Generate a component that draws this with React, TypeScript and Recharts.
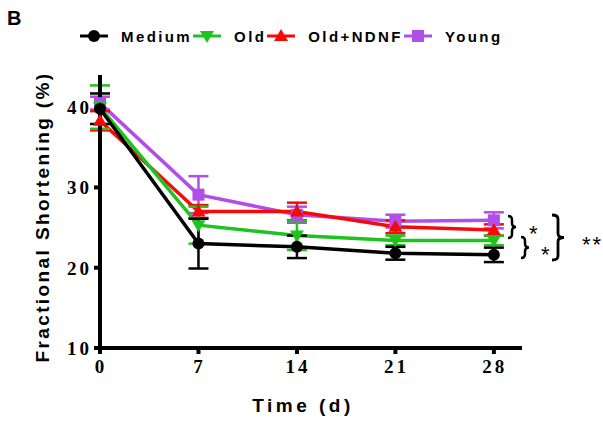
import { LineChart, Line, XAxis, YAxis, ErrorBar, Customized } from "recharts";

const days = [0, 7, 14, 21, 28];
const medium = [39.8, 23.0, 22.6, 21.8, 21.6];
const mediumErr = [1.9, 3.1, 1.4, 0.8, 0.9];
const old = [40.0, 25.3, 24.0, 23.4, 23.4];
const oldErr = [2.7, 2.3, 1.8, 0.6, 0.6];
const oldNdnf = [38.3, 27.0, 27.0, 25.1, 24.7];
const oldNdnfErr = [1.2, 0.8, 1.1, 0.8, 0.7];
const young = [40.5, 29.1, 26.6, 25.8, 25.9];
const youngErr = [0.8, 2.3, 1.0, 0.8, 1.0];

const yTicks = [10, 20, 30, 40];

const data = days.map((d, i) => ({
  day: d,
  medium: medium[i],
  mediumErr: mediumErr[i],
  old: old[i],
  oldErr: oldErr[i],
  oldNdnf: oldNdnf[i],
  oldNdnfErr: oldNdnfErr[i],
  young: young[i],
  youngErr: youngErr[i],
}));

const BLACK = "#000000";
const GREEN = "#1ec31e";
const RED = "#f50a0a";
const PURPLE = "#b14ee8";

type Shape = "circle" | "down" | "up" | "square";

function Marker({ cx, cy, shape, color }: { cx: number; cy: number; shape: Shape; color: string }) {
  if (shape === "circle") return <circle cx={cx} cy={cy} r={6} fill={color} />;
  if (shape === "square") return <rect x={cx - 6} y={cy - 6} width={12} height={12} fill={color} />;
  if (shape === "down")
    return <path d={`M${cx - 7},${cy - 5} L${cx + 7},${cy - 5} L${cx},${cy + 7} Z`} fill={color} />;
  return <path d={`M${cx - 7},${cy + 5} L${cx + 7},${cy + 5} L${cx},${cy - 7} Z`} fill={color} />;
}

const dotFor = (shape: Shape, color: string) => (p: any) =>
  <Marker key={`${shape}-${p.index}`} cx={p.cx} cy={p.cy} shape={shape} color={color} />;

const legendItems: { name: string; shape: Shape; color: string }[] = [
  { name: "Medium", shape: "circle", color: BLACK },
  { name: "Old", shape: "down", color: GREEN },
  { name: "Old+NDNF", shape: "up", color: RED },
  { name: "Young", shape: "square", color: PURPLE },
];

const YTick = ({ x, y, payload }: any) => (
  <text x={x} y={y} dy={7} textAnchor="end" fontFamily="Liberation Serif" fontWeight="bold" fontSize={19} letterSpacing={3} fill="#000">
    {payload.value}
  </text>
);

const XTick = ({ x, y, payload }: any) => (
  <text x={x + 1} y={y} dy={17} textAnchor="middle" fontFamily="Liberation Serif" fontWeight="bold" fontSize={19} letterSpacing={3} fill="#000">
    {payload.value}
  </text>
);

function brace(x: number, y1: number, y2: number, w: number) {
  const ym = (y1 + y2) / 2;
  const r = 4;
  return `M${x},${y1} Q${x + w},${y1} ${x + w},${y1 + r} L${x + w},${ym - r} Q${x + w},${ym} ${x + 2 * w},${ym} Q${x + w},${ym} ${x + w},${ym + r} L${x + w},${y2 - r} Q${x + w},${y2} ${x},${y2}`;
}

const Annotations = () => (
  <g>
    <text x={7} y={25} fontFamily="Liberation Sans" fontWeight="bold" fontSize={20} fill="#000">B</text>
    <text
      transform="translate(49,217) rotate(-90)"
      textAnchor="middle"
      fontFamily="Liberation Sans"
      fontWeight="bold"
      fontSize={19}
      letterSpacing={2.4}
      fill="#000"
    >
      Fractional Shortening (%)
    </text>
    <text x={303} y={412} textAnchor="middle" fontFamily="Liberation Sans" fontWeight="bold" fontSize={19} letterSpacing={3.5} fill="#000">
      Time (d)
    </text>
    <path d={brace(508, 216, 238, 4)} fill="none" stroke="#000" strokeWidth={2.5} />
    <path d={brace(521, 237, 258, 4)} fill="none" stroke="#000" strokeWidth={2.5} />
    <path d={brace(552, 215, 260, 6)} fill="none" stroke="#000" strokeWidth={2.8} />
    <text x={529} y={241} fontFamily="Liberation Sans" fontSize={22} fill="#000">*</text>
    <text x={541} y={262} fontFamily="Liberation Sans" fontSize={22} fill="#000">*</text>
    <text x={582} y={252} fontFamily="Liberation Sans" fontSize={22} letterSpacing={2} fill="#000">**</text>
  </g>
);

export default function App() {
  return (
    <div style={{ position: "absolute", left: 0, top: 0, width: 603, height: 426, background: "#fff" }}>
      <div
        style={{
          position: "absolute",
          left: 80,
          top: 27,
          display: "flex",
          alignItems: "center",
          fontFamily: "Liberation Sans",
          fontWeight: "bold",
          fontSize: 15,
          letterSpacing: 2.4,
          color: "#000",
          zIndex: 2,
        }}
      >
        {legendItems.map((it) => (
          <div key={it.name} style={{ display: "flex", alignItems: "center", marginRight: 1 }}>
            <svg width={28} height={18} style={{ marginRight: 13 }}>
              <line x1={0} y1={9} x2={28} y2={9} stroke={it.color} strokeWidth={3} />
              <Marker cx={14} cy={9} shape={it.shape} color={it.color} />
            </svg>
            <span>{it.name}</span>
          </div>
        ))}
      </div>
      <LineChart width={603} height={426} data={data} margin={{ top: 75, right: 81, bottom: 48, left: 40 }}>
        <XAxis
          dataKey="day"
          type="number"
          domain={[0, 30]}
          ticks={days}
          tick={<XTick />}
          tickSize={6}
          height={30}
          axisLine={{ stroke: "#000", strokeWidth: 4 }}
          tickLine={{ stroke: "#000", strokeWidth: 4 }}
        />
        <YAxis
          type="number"
          domain={[10, 44]}
          ticks={yTicks}
          tick={<YTick />}
          tickSize={6}
          width={60}
          axisLine={{ stroke: "#000", strokeWidth: 4 }}
          tickLine={{ stroke: "#000", strokeWidth: 4 }}
        />
        <Line dataKey="young" stroke={PURPLE} strokeWidth={3.5} dot={dotFor("square", PURPLE)} isAnimationActive={false}>
          <ErrorBar dataKey="youngErr" direction="y" width={10} stroke={PURPLE} strokeWidth={2.5} />
        </Line>
        <Line dataKey="oldNdnf" stroke={RED} strokeWidth={3.5} dot={dotFor("up", RED)} isAnimationActive={false}>
          <ErrorBar dataKey="oldNdnfErr" direction="y" width={10} stroke={RED} strokeWidth={2.5} />
        </Line>
        <Line dataKey="old" stroke={GREEN} strokeWidth={3.5} dot={dotFor("down", GREEN)} isAnimationActive={false}>
          <ErrorBar dataKey="oldErr" direction="y" width={10} stroke={GREEN} strokeWidth={2.5} />
        </Line>
        <Line dataKey="medium" stroke={BLACK} strokeWidth={3.5} dot={dotFor("circle", BLACK)} isAnimationActive={false}>
          <ErrorBar dataKey="mediumErr" direction="y" width={10} stroke={BLACK} strokeWidth={2.5} />
        </Line>
        <Customized component={Annotations} />
      </LineChart>
    </div>
  );
}
